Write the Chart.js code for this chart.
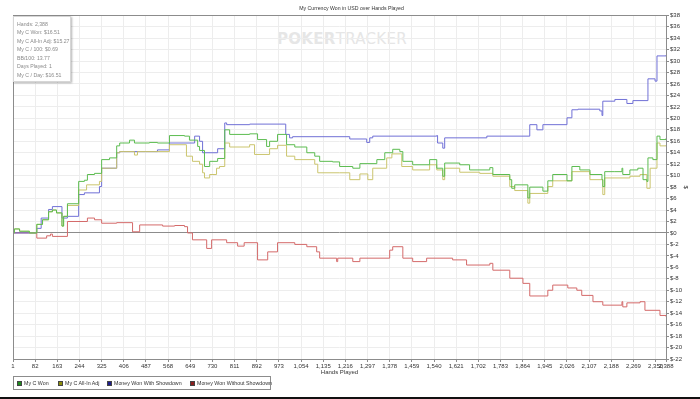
<!DOCTYPE html>
<html>
<head>
<meta charset="utf-8">
<script src="https://cdn.jsdelivr.net/npm/chart.js@4"></script>
<style>
  body { margin: 0; background: #fff; font-family: "Liberation Sans", Arial, sans-serif; }
  #quadro { position: relative; width: 700px; height: 399px; overflow: hidden; }
  #marca { position: absolute; left: 277px; top: 30px; font: bold 15px "DejaVu Sans", sans-serif; color: #e6e6e6; letter-spacing: 0.3px; }
  #marca span { font-weight: normal; }
  #grafico { position: absolute; left: 0; top: 0; }
  #resumo { position: absolute; left: 13px; top: 16px; width: 53px; height: 61px; background: #fff;
            border: 1px solid #d6d6d6; box-shadow: 1px 1px 2px rgba(0,0,0,0.3); font-size: 5.2px; color: #8a8a8a;
            padding: 3px 0 0 3px; line-height: 8.45px; white-space: nowrap; }
  #legenda { position: absolute; left: 13px; top: 376px; width: 256px; height: 12px; border: 1px solid #8c8c8c;
             font-size: 5.3px; color: #333; }
  #legenda .item { position: absolute; top: 3px; white-space: nowrap; line-height: 6px; }
  #legenda i { display: inline-block; width: 3px; height: 3px; border: 1px solid #444; margin-right: 2px; vertical-align: -0.5px; }
  #rodape { position: absolute; left: 0; top: 397px; width: 700px; height: 2px; background: #111; }
</style>
</head>
<body>
<div id="quadro">
  <div id="marca">POKER<span>TRACKER</span></div>
  <canvas id="grafico" width="700" height="399"></canvas>
  <div id="resumo">
    Hands: 2,388<br>My C Won: $16.51<br>My C All-In Adj: $15.27<br>My C / 100: $0.69<br>BB/100: 13.77<br>Days Played: 1<br>My C / Day: $16.51
  </div>
  <div id="legenda">
    <span class="item" style="left:3px"><i style="background:#1e8c1e"></i>My C Won</span>
    <span class="item" style="left:44px"><i style="background:#8c8c0a"></i>My C All-In Adj</span>
    <span class="item" style="left:93px"><i style="background:#1e1e8c"></i>Money Won With Showdown</span>
    <span class="item" style="left:176px"><i style="background:#8c1e1e"></i>Money Won Without Showdown</span>
  </div>
  <div id="rodape"></div>
</div>
<script>
// marcas do eixo x (mãos jogadas)
const marcasMaos = [1, 82, 163, 244, 325, 406, 487, 568, 649, 730, 811, 892, 973, 1054, 1135, 1216, 1297,
  1378, 1459, 1540, 1621, 1702, 1783, 1864, 1945, 2026, 2107, 2188, 2269, 2350, 2388];

// My C Won
const maosGanho = [1, 6, 25, 61, 88, 109, 131, 145, 160, 180, 186, 200, 241, 262, 273, 299, 325, 354, 380, 391,
  427, 445, 500, 529, 573, 628, 646, 676, 683, 701, 720, 749, 775, 793, 866, 895, 928, 939, 968, 1001, 1031,
  1075, 1104, 1122, 1169, 1195, 1243, 1269, 1331, 1360, 1389, 1415, 1426, 1462, 1524, 1550, 1572, 1579, 1634,
  1670, 1744, 1755, 1817, 1824, 1835, 1883, 1890, 1938, 1956, 1974, 2026, 2044, 2073, 2110, 2154, 2157, 2164,
  2201, 2227, 2230, 2256, 2285, 2304, 2318, 2322, 2340, 2355, 2366, 2388];
const valoresGanho = [0, 0.7, 0.3, 0, 1.5, 2.3, 3.7, 4.0, 3.5, 1.2, 2.9, 5.1, 9.0, 9.2, 10.2, 10.4, 12.8, 13.1, 15.2, 15.7,
  16.2, 15.7, 15.8, 15.7, 17.0, 16.9, 16.2, 15.1, 14.4, 11.6, 12.5, 13.0, 18.0, 17.2, 17.3, 16.3, 15.1, 16.0, 17.2, 15.4, 15.0,
  14.0, 13.4, 12.5, 12.4, 11.6, 11.3, 12.1, 12.8, 14.0, 14.6, 14.2, 12.5, 11.9, 12.8, 11.3, 9.9, 12.2, 11.9,
  11.0, 11.4, 10.2, 9.3, 7.8, 8.4, 6.1, 8.0, 7.3, 9.1, 10.2, 9.1, 11.6, 11.0, 10.2, 9.3, 8.1, 10.7,
  10.7, 11.3, 10.2, 11.0, 11.3, 9.3, 9.0, 13.1, 12.8, 16.9, 16.3, 16.51];

// My C All-In Adj
const maosAllIn = [1, 6, 25, 61, 88, 109, 131, 145, 160, 180, 186, 200, 241, 270, 317, 325, 380, 391, 445, 456,
  573, 635, 657, 683, 694, 701, 720, 745, 756, 775, 793, 866, 884, 939, 968, 1001, 1031, 1104, 1115, 1195, 1232,
  1269, 1298, 1316, 1367, 1386, 1422, 1462, 1524, 1550, 1572, 1579, 1634, 1707, 1755, 1817, 1835, 1883, 1890,
  1956, 1974, 2044, 2110, 2157, 2164, 2256, 2293, 2318, 2330, 2355, 2366, 2388];
const valoresAllIn = [0, 0.7, 0.3, 0, 1.5, 2.3, 3.7, 4.0, 3.5, 1.2, 2.9, 4.8, 7.5, 8.4, 9.0, 11.3, 14.0, 14.2, 13.6, 14.2,
  15.4, 13.4, 12.5, 12.0, 10.5, 9.6, 10.2, 11.3, 11.6, 15.7, 15.0, 15.4, 13.7, 14.7, 15.3, 13.4, 12.8, 12.0, 10.5, 10.5, 9.3,
  10.3, 9.3, 11.3, 13.1, 13.8, 11.6, 11.0, 11.9, 11.0, 9.3, 11.3, 10.6, 10.4, 9.9, 8.1, 7.4, 5.2, 6.9,
  8.1, 9.1, 10.7, 9.3, 6.7, 9.6, 9.9, 10.2, 7.8, 11.3, 15.7, 15.2, 15.27];

// Money Won With Showdown
const maosComShowdown = [1, 87, 88, 104, 131, 145, 180, 200, 241, 262, 317, 325, 380, 391, 529, 573, 665, 683, 694,
  749, 775, 782, 866, 998, 1012, 1023, 1232, 1294, 1305, 1316, 1550, 1553, 1572, 1579, 1733, 1890, 1916, 1938,
  2026, 2044, 2066, 2146, 2154, 2157, 2201, 2245, 2267, 2322, 2348, 2355, 2388];
const valoresComShowdown = [0, 0, 0.8, 2.6, 4.1, 4.6, 2.6, 2.9, 6.7, 7.0, 8.1, 11.3, 14.0, 14.2, 14.5, 15.7, 16.9, 16.0, 14.0,
  14.7, 19.2, 18.9, 19.0, 17.2, 16.6, 16.8, 16.4, 15.8, 16.6, 16.9, 17.0, 15.7, 14.8, 16.6, 16.9, 18.9, 18.0, 18.9,
  20.1, 21.5, 21.6, 21.3, 20.5, 23.0, 23.3, 22.6, 23.1, 26.9, 26.5, 30.9, 31.0];

// Money Won Without Showdown
const maosSemShowdown = [1, 87, 88, 124, 138, 145, 200, 273, 299, 325, 380, 438, 464, 548, 592, 628, 639, 657, 709,
  727, 782, 822, 846, 895, 932, 968, 1031, 1075, 1111, 1122, 1184, 1188, 1243, 1269, 1378, 1389, 1426, 1462, 1513,
  1608, 1659, 1744, 1755, 1817, 1865, 1890, 1956, 1974, 2029, 2062, 2080, 2121, 2157, 2227, 2230, 2245, 2293,
  2311, 2366, 2388];
const valoresSemShowdown = [0, 0, -0.9, -0.5, -0.2, -0.6, 2.0, 2.6, 2.3, 1.7, 1.8, 0.2, 1.4, 1.2, 1.3, 1.1, 0, -1.2, -2.7,
  -1.2, -1.7, -2.3, -1.7, -4.7, -3.3, -1.7, -2.0, -2.4, -3.3, -4.4, -5.0, -4.4, -5.0, -4.4, -3.0, -2.4, -4.4, -5.0, -4.4,
  -4.7, -5.6, -5.3, -6.5, -7.9, -8.8, -11.0, -10.0, -9.1, -9.6, -10.0, -10.9, -12.0, -12.6, -12.0, -12.9, -12.2, -12.0,
  -13.5, -14.4, -14.6];

const fonte = "'Liberation Sans', Arial, sans-serif";

// junta as mãos e os valores em pontos {x, y}
function montarPontos(maos, valores) {
  return maos.map((m, i) => ({ x: m, y: valores[i] }));
}

// moldura cinza em volta da área do gráfico
const moldura = {
  id: "moldura",
  afterDraw(chart) {
    const { ctx, chartArea: a } = chart;
    ctx.save();
    ctx.strokeStyle = "#8c8c8c";
    ctx.lineWidth = 1;
    ctx.strokeRect(Math.round(a.left) + 0.5, Math.round(a.top) + 0.5, Math.round(a.right - a.left), Math.round(a.bottom - a.top));
    ctx.restore();
  },
};

function linha(rotulo, maos, valores, cor) {
  return {
    label: rotulo,
    data: montarPontos(maos, valores),
    borderColor: cor,
    backgroundColor: cor,
    borderWidth: 1,
    pointRadius: 0,
    stepped: true,
    fill: false,
  };
}

new Chart(document.getElementById("grafico").getContext("2d"), {
  type: "line",
  data: {
    datasets: [
      linha("My C Won", maosGanho, valoresGanho, "#5cbc50"),
      linha("My C All-In Adj", maosAllIn, valoresAllIn, "#cbc56e"),
      linha("Money Won With Showdown", maosComShowdown, valoresComShowdown, "#7070d6"),
      linha("Money Won Without Showdown", maosSemShowdown, valoresSemShowdown, "#d46a6a"),
    ],
  },
  options: {
    responsive: false,
    animation: false,
    layout: { padding: { left: 13, right: 10, top: 0, bottom: 23 } },
    plugins: {
      legend: { display: false },
      tooltip: { enabled: false },
      title: {
        display: true,
        text: "My Currency Won in USD over Hands Played",
        color: "#333",
        font: { size: 5.2, family: fonte, weight: "normal" },
        padding: { top: 5, bottom: 4 },
      },
    },
    scales: {
      x: {
        type: "linear",
        min: 1,
        max: 2388,
        afterBuildTicks: (s) => {
          s.ticks = marcasMaos.map((v) => ({ value: v }));
        },
        afterFit: (s) => {
          s.height = 17;
        },
        ticks: {
          autoSkip: false,
          maxRotation: 0,
          padding: 1,
          color: "#333",
          font: { size: 6, family: fonte },
          callback: (v) => v.toLocaleString("en-US"),
        },
        grid: { color: "#ededed", tickLength: 3, tickColor: "#8c8c8c" },
        border: { color: "#8c8c8c" },
        title: { display: true, text: "Hands Played", color: "#333", font: { size: 6, family: fonte }, padding: 0 },
      },
      y: {
        position: "right",
        min: -22,
        max: 38,
        afterFit: (s) => {
          s.width = 24;
        },
        ticks: {
          stepSize: 2,
          padding: 1,
          color: "#333",
          font: { size: 6, family: fonte },
          callback: (v) => "$" + v,
        },
        grid: {
          color: (c) => (c.tick && c.tick.value === 0 ? "#8c8c8c" : "#ededed"),
          tickLength: 3,
          tickColor: "#8c8c8c",
        },
        border: { color: "#8c8c8c" },
        title: { display: true, text: "$", color: "#333", font: { size: 6, family: fonte }, padding: { top: 1, bottom: 0 } },
      },
    },
  },
  plugins: [moldura],
});
</script>
</body>
</html>
